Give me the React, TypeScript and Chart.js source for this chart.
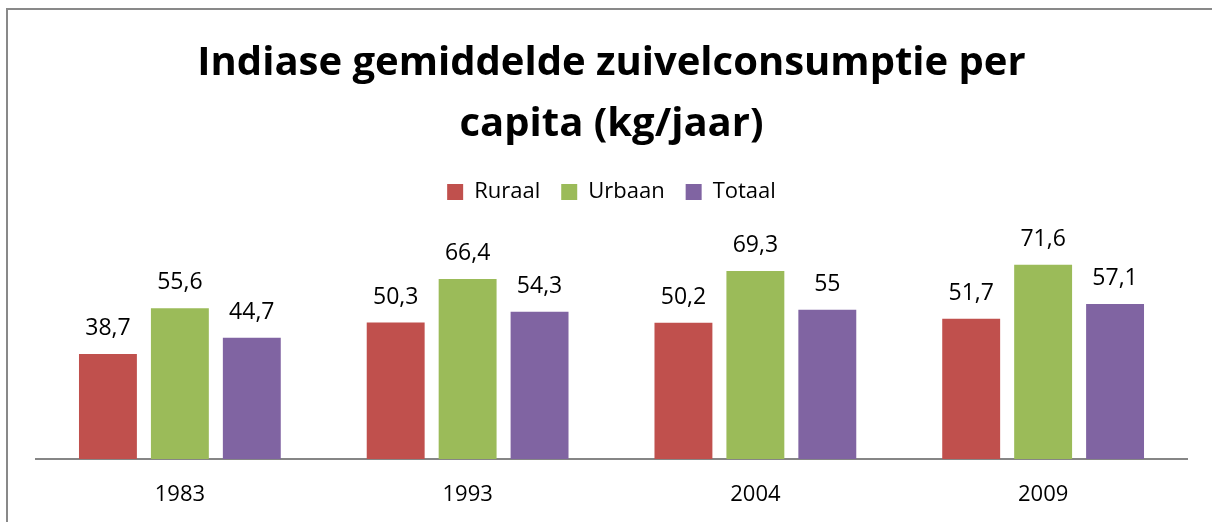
import React, { useEffect, useRef } from "react";
import { Chart, registerables } from "chart.js";

Chart.register(...registerables);

const titleLines = ["Indiase gemiddelde zuivelconsumptie per", "capita (kg/jaar)"];
const categories = ["1983", "1993", "2004", "2009"];
const seriesNames = ["Ruraal", "Urbaan", "Totaal"];
const ruraal = [38.7, 50.3, 50.2, 51.7];
const urbaan = [55.6, 66.4, 69.3, 71.6];
const totaal = [44.7, 54.3, 55, 57.1];
const seriesColors = ["#C0504D", "#9BBB59", "#8064A2"];
const yMin = 0;
const yMax = 80;

const FONT = "'Open Sans', sans-serif";

const fmt = (v: number) => String(v).replace(".", ",");

const dataLabelPlugin = {
  id: "dataLabels",
  afterDatasetsDraw(chart: any) {
    const ctx = chart.ctx;
    ctx.save();
    ctx.font = `23px ${FONT}`;
    ctx.fillStyle = "#000";
    ctx.textAlign = "center";
    ctx.textBaseline = "alphabetic";
    chart.data.datasets.forEach((ds: any, di: number) => {
      const meta = chart.getDatasetMeta(di);
      meta.data.forEach((bar: any, i: number) => {
        ctx.fillText(fmt(ds.data[i]), bar.x, bar.y - 19);
      });
    });
    ctx.restore();
  },
};

const legendSpacing = {
  id: "legendSpacing",
  beforeInit(chart: any) {
    const orig = chart.legend.fit;
    chart.legend.fit = function () {
      orig.bind(chart.legend)();
      this.height += 29;
    };
  },
};

export default function App() {
  const ref = useRef<HTMLCanvasElement>(null);
  useEffect(() => {
    if (!ref.current) return;
    const values = [ruraal, urbaan, totaal];
    const chart = new Chart(ref.current, {
      type: "bar",
      data: {
        labels: categories,
        datasets: seriesNames.map((name, i) => ({
          label: name,
          data: values[i],
          backgroundColor: seriesColors[i],
          borderWidth: 0,
          barPercentage: 0.805,
          categoryPercentage: 0.75,
        })),
      },
      options: {
        animation: false,
        responsive: false,
        devicePixelRatio: 1,
        color: "#000",
        layout: { padding: { left: 36, right: 25, top: 0, bottom: 0 } },
        plugins: {
          title: {
            display: true,
            text: titleLines,
            color: "#000",
            font: { family: FONT, size: 40, weight: "bold", lineHeight: 1.525 },
            padding: { top: 33, bottom: 5 },
          },
          legend: {
            display: true,
            position: "top",
            labels: {
              color: "#000",
              font: { family: FONT, size: 22 },
              boxWidth: 16,
              boxHeight: 16,
              padding: 21,
            },
          },
          tooltip: { enabled: false },
        },
        scales: {
          x: {
            grid: { display: false, drawTicks: false },
            border: { display: true, color: "#868686", width: 2 },
            ticks: { color: "#000", font: { family: FONT, size: 22 }, padding: 23 },
            afterFit(scale: any) {
              scale.height = 63;
            },
          },
          y: {
            display: false,
            min: yMin,
            max: yMax,
          },
        },
      },
      plugins: [dataLabelPlugin, legendSpacing],
    });
    return () => chart.destroy();
  }, []);
  return (
    <div style={{ position: "fixed", left: 0, top: 0, width: 1212, height: 522, background: "#fff", overflow: "hidden" }}>
      <canvas ref={ref} width={1212} height={522} style={{ position: "absolute", left: 0, top: 0, width: 1212, height: 522 }} />
      <div
        style={{
          position: "absolute",
          left: 6,
          top: 8,
          width: 1220,
          height: 530,
          borderLeft: "2px solid #898989",
          borderTop: "2px solid #898989",
          pointerEvents: "none",
        }}
      />
    </div>
  );
}
